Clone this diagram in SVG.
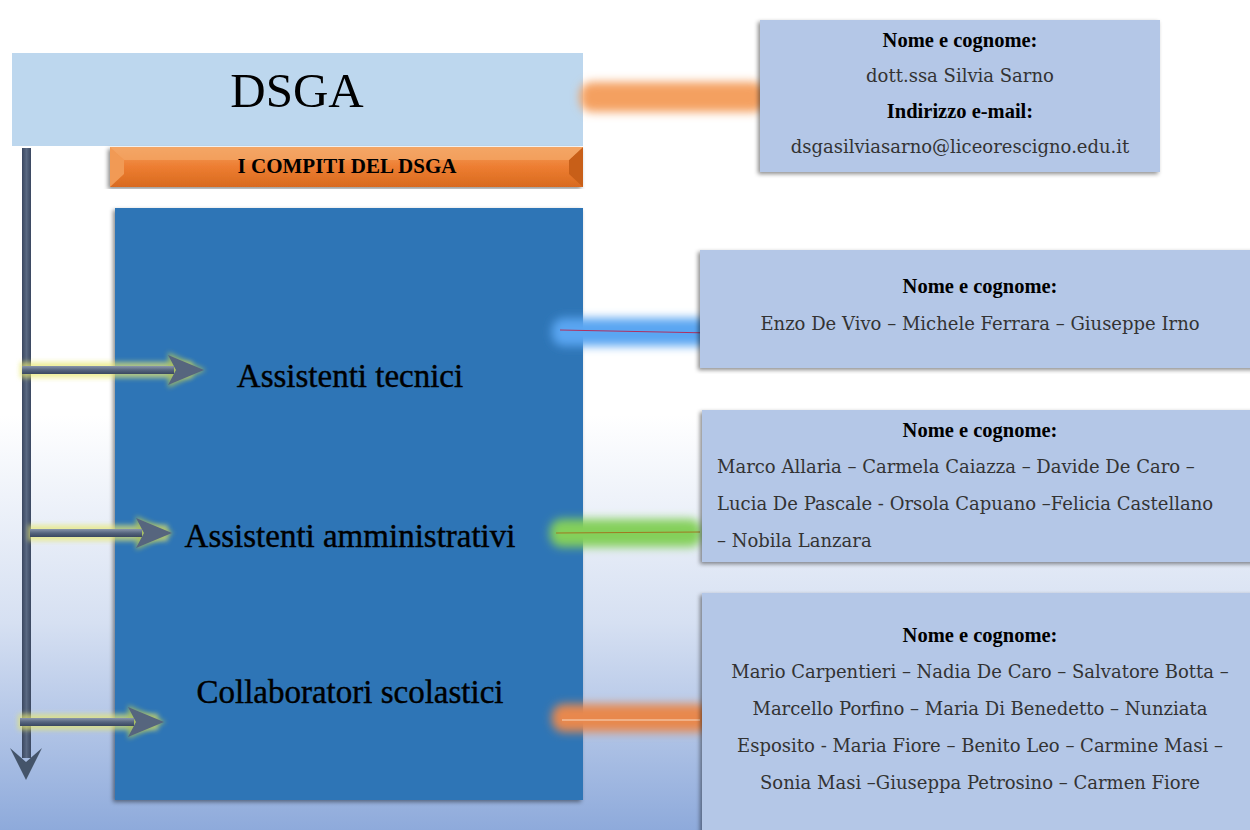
<svg xmlns="http://www.w3.org/2000/svg" width="1250" height="830" viewBox="0 0 1250 830">
<defs>
<linearGradient id="bg" x1="0" y1="0" x2="0" y2="1">
<stop offset="0" stop-color="#ffffff"/>
<stop offset="0.5" stop-color="#ffffff"/>
<stop offset="0.75" stop-color="#d6e0f2"/>
<stop offset="1" stop-color="#8eaadb"/>
</linearGradient>
<linearGradient id="orange" x1="0" y1="0" x2="0" y2="1">
<stop offset="0" stop-color="#f4a060"/>
<stop offset="0.5" stop-color="#ed7d31"/>
<stop offset="1" stop-color="#d86a1f"/>
</linearGradient>
<linearGradient id="shaft" x1="0" y1="0" x2="0" y2="1">
<stop offset="0" stop-color="#8a96aa"/>
<stop offset="0.5" stop-color="#56657e"/>
<stop offset="1" stop-color="#3a4760"/>
</linearGradient>
<linearGradient id="vshaft" x1="0" y1="0" x2="1" y2="0">
<stop offset="0" stop-color="#3a4760"/>
<stop offset="0.5" stop-color="#5a6982"/>
<stop offset="1" stop-color="#3a4760"/>
</linearGradient>
<filter id="blur" x="-20%" y="-100%" width="140%" height="300%"><feGaussianBlur stdDeviation="5"/></filter>
<filter id="glow" x="-20%" y="-100%" width="140%" height="300%"><feGaussianBlur stdDeviation="2.5"/></filter>
<filter id="shadow" x="-5%" y="-5%" width="110%" height="110%"><feDropShadow dx="-2" dy="2" stdDeviation="2" flood-color="#000" flood-opacity="0.45"/></filter>
</defs>
<style>
.title{font-family:"Liberation Serif",serif;fill:#000;text-anchor:middle}
.lab{font-family:"Liberation Serif",serif;font-size:33px;fill:#000;stroke:#000;stroke-width:0.4;text-anchor:middle}
.hd{font-family:"Liberation Serif",serif;font-size:20.5px;font-weight:bold;fill:#000;text-anchor:middle}
.nm{font-family:"DejaVu Serif",serif;font-size:18px;fill:#333;text-anchor:middle}
.nml{font-family:"DejaVu Serif",serif;font-size:18px;fill:#333}
.card{fill:#b4c7e7}
</style>
<rect x="0" y="0" width="1250" height="830" fill="url(#bg)"/>

<g id="dsga">
<rect x="12" y="53" width="571" height="93" fill="#bdd7ee"/>
<text class="title" x="297" y="107" font-size="49">DSGA</text>
</g>

<g id="compiti">
<rect x="110" y="147" width="473" height="40" fill="url(#orange)" filter="url(#shadow)"/>
<polygon points="110,147 124,160 124,174 110,187" fill="#f19a55"/>
<polygon points="583,147 569,160 569,174 583,187" fill="#c85f18"/>
<polygon points="110,147 583,147 569,160 124,160" fill="#f4a868" opacity="0.7"/>
<text class="title" x="347" y="173" font-size="21" font-weight="bold">I COMPITI DEL DSGA</text>
</g>

<g id="main-box">
<rect x="115" y="208" width="468" height="592" fill="#2e75b6" filter="url(#shadow)"/>
</g>

<g id="connectors">
<rect x="22" y="148" width="9" height="610" fill="url(#vshaft)"/>
<polygon points="10,748 26,762 42,748 26,780" fill="#44546a"/>
<g>
<rect x="20" y="362" width="172" height="16" fill="#e8e870" opacity="0.7" filter="url(#glow)"/>
<polygon points="168,352 206,370 168,388" fill="#a8c060" opacity="0.8" filter="url(#glow)"/>
<rect x="22" y="366" width="152" height="8" fill="url(#shaft)"/>
<polygon points="168,355 204,370 168,385 176,370" fill="#56657e"/>
</g>
<g>
<rect x="28" y="525" width="140" height="16" fill="#e8e870" opacity="0.7" filter="url(#glow)"/>
<polygon points="136,516 174,533 136,550" fill="#a8c060" opacity="0.8" filter="url(#glow)"/>
<rect x="30" y="529" width="112" height="8" fill="url(#shaft)"/>
<polygon points="136,518 172,533 136,548 144,533" fill="#56657e"/>
</g>
<g>
<rect x="18" y="714" width="140" height="16" fill="#e8e870" opacity="0.7" filter="url(#glow)"/>
<polygon points="128,705 166,722 128,739" fill="#a8c060" opacity="0.8" filter="url(#glow)"/>
<rect x="20" y="718" width="114" height="8" fill="url(#shaft)"/>
<polygon points="128,707 164,722 128,737 136,722" fill="#56657e"/>
</g>
<rect x="580" y="82" width="186" height="30" rx="12" fill="#f4a060" filter="url(#blur)"/>
<rect x="552" y="318" width="168" height="28" rx="12" fill="#5aa6f2" filter="url(#blur)"/>
<line x1="560" y1="330" x2="712" y2="333" stroke="#b03060" stroke-width="1"/>
<rect x="550" y="519" width="152" height="28" rx="12" fill="#84d05a" filter="url(#blur)"/>
<line x1="556" y1="533" x2="700" y2="532" stroke="#a07820" stroke-width="1"/>
<rect x="552" y="704" width="160" height="28" rx="12" fill="#e8884e" filter="url(#blur)"/>
<line x1="562" y1="720" x2="700" y2="720" stroke="#f8d8c0" stroke-width="1"/>
</g>

<g id="assistenti-tecnici"><text class="lab" x="350" y="387">Assistenti tecnici</text></g>
<g id="assistenti-amministrativi"><text class="lab" x="350" y="547">Assistenti amministrativi</text></g>
<g id="collaboratori-scolastici"><text class="lab" x="350" y="703">Collaboratori scolastici</text></g>

<g id="card-dsga">
<rect class="card" x="760" y="20" width="400" height="152" filter="url(#shadow)"/>
<text class="hd" x="960" y="47">Nome e cognome:</text>
<text class="nm" x="960" y="82">dott.ssa Silvia Sarno</text>
<text class="hd" x="960" y="118">Indirizzo e-mail:</text>
<text class="nm" x="960" y="153">dsgasilviasarno@liceorescigno.edu.it</text>
</g>

<g id="card-tecnici">
<rect class="card" x="700" y="250" width="560" height="118" filter="url(#shadow)"/>
<text class="hd" x="980" y="293">Nome e cognome:</text>
<text class="nm" x="980" y="330">Enzo De Vivo – Michele Ferrara – Giuseppe Irno</text>
</g>

<g id="card-amministrativi">
<rect class="card" x="702" y="410" width="558" height="152" filter="url(#shadow)"/>
<text class="hd" x="980" y="437">Nome e cognome:</text>
<text class="nml" x="717" y="473">Marco Allaria – Carmela Caiazza – Davide De Caro –</text>
<text class="nml" x="717" y="510">Lucia De Pascale - Orsola Capuano –Felicia Castellano</text>
<text class="nml" x="717" y="547"> – Nobila Lanzara</text>
</g>

<g id="card-collaboratori">
<rect class="card" x="702" y="593" width="558" height="245" filter="url(#shadow)"/>
<text class="hd" x="980" y="642">Nome e cognome:</text>
<text class="nm" x="980" y="678">Mario Carpentieri – Nadia De Caro – Salvatore Botta –</text>
<text class="nm" x="980" y="715">Marcello Porfino – Maria Di Benedetto – Nunziata</text>
<text class="nm" x="980" y="752">Esposito - Maria Fiore – Benito Leo – Carmine Masi –</text>
<text class="nm" x="980" y="789">Sonia Masi –Giuseppa Petrosino – Carmen Fiore</text>
</g>
</svg>
